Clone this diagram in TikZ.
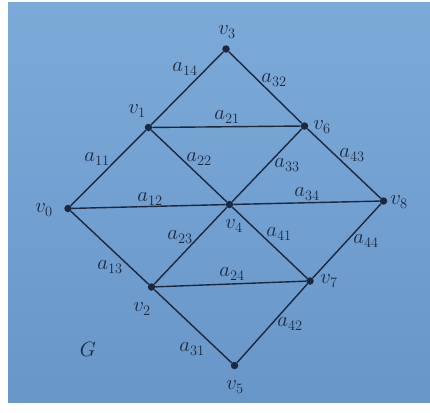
\documentclass[tikz,border=0pt]{standalone}
\begin{document}
\begin{tikzpicture}[x=1pt,y=-1pt,
  vtx/.style={circle,fill=ink,inner sep=0pt,minimum size=7.5pt},
  lbl/.style={text=ink,inner sep=0pt,font=\fontsize{20}{24}\selectfont},
  edge/.style={draw=ink,line width=1.4pt}]
\definecolor{ink}{RGB}{28,40,62}
\definecolor{paperTop}{RGB}{124,170,216}
\definecolor{paperBot}{RGB}{104,150,200}
\useasboundingbox (0,0) rectangle (430,412);
\fill[white] (0,0) rectangle (430,412);
\shade[top color=paperTop,bottom color=paperBot] (8,3) rectangle (430,402);
% vertices
\node[vtx] (v3) at (226,49) {};
\node[vtx] (v1) at (148.5,127.5) {};
\node[vtx] (v6) at (304.5,126) {};
\node[vtx] (v0) at (68,208.5) {};
\node[vtx] (v4) at (229.5,204.5) {};
\node[vtx] (v8) at (383.5,201) {};
\node[vtx] (v2) at (151.5,287) {};
\node[vtx] (v7) at (310,281) {};
\node[vtx] (v5) at (234.5,365.5) {};
% edges
\draw[edge] (v1) -- (v3);
\draw[edge] (v3) -- (v6);
\draw[edge] (v1) -- (v6);
\draw[edge] (v0) -- (v1);
\draw[edge] (v1) -- (v4);
\draw[edge] (v4) -- (v6);
\draw[edge] (v6) -- (v8);
\draw[edge] (v0) -- (v4);
\draw[edge] (v4) -- (v8);
\draw[edge] (v0) -- (v2);
\draw[edge] (v2) -- (v4);
\draw[edge] (v4) -- (v7);
\draw[edge] (v7) -- (v8);
\draw[edge] (v2) -- (v7);
\draw[edge] (v2) -- (v5);
\draw[edge] (v5) -- (v7);
% vertex labels
\node[lbl] (L3) at (227,32) {$v_3$};
\node[lbl] (L1) at (137,111) {$v_1$};
\node[lbl] (L6) at (322,127) {$v_6$};
\node[lbl] (L0) at (44,210) {$v_0$};
\node[lbl] (L4) at (234,226) {$v_4$};
\node[lbl] (L8) at (399,202) {$v_8$};
\node[lbl] (L2) at (142,309) {$v_2$};
\node[lbl] (L7) at (329,281) {$v_7$};
\node[lbl] (L5) at (235,387) {$v_5$};
\node[lbl] (G) at (88,349) {$G$};
% edge labels
\node[lbl] (a14) at (185,69) {$a_{14}$};
\node[lbl] (a32) at (274,80) {$a_{32}$};
\node[lbl] (a21) at (227,117) {$a_{21}$};
\node[lbl] (a11) at (97,159) {$a_{11}$};
\node[lbl] (a22) at (199,159) {$a_{22}$};
\node[lbl] (a33) at (287,165) {$a_{33}$};
\node[lbl] (a43) at (352,155) {$a_{43}$};
\node[lbl] (a12) at (150,199) {$a_{12}$};
\node[lbl] (a34) at (307,194) {$a_{34}$};
\node[lbl] (a23) at (180,237) {$a_{23}$};
\node[lbl] (a41) at (279,234) {$a_{41}$};
\node[lbl] (a44) at (366,241) {$a_{44}$};
\node[lbl] (a13) at (110,267) {$a_{13}$};
\node[lbl] (a24) at (232,274) {$a_{24}$};
\node[lbl] (a42) at (290,324) {$a_{42}$};
\node[lbl] (a31) at (192,349) {$a_{31}$};
\end{tikzpicture}
\end{document}
